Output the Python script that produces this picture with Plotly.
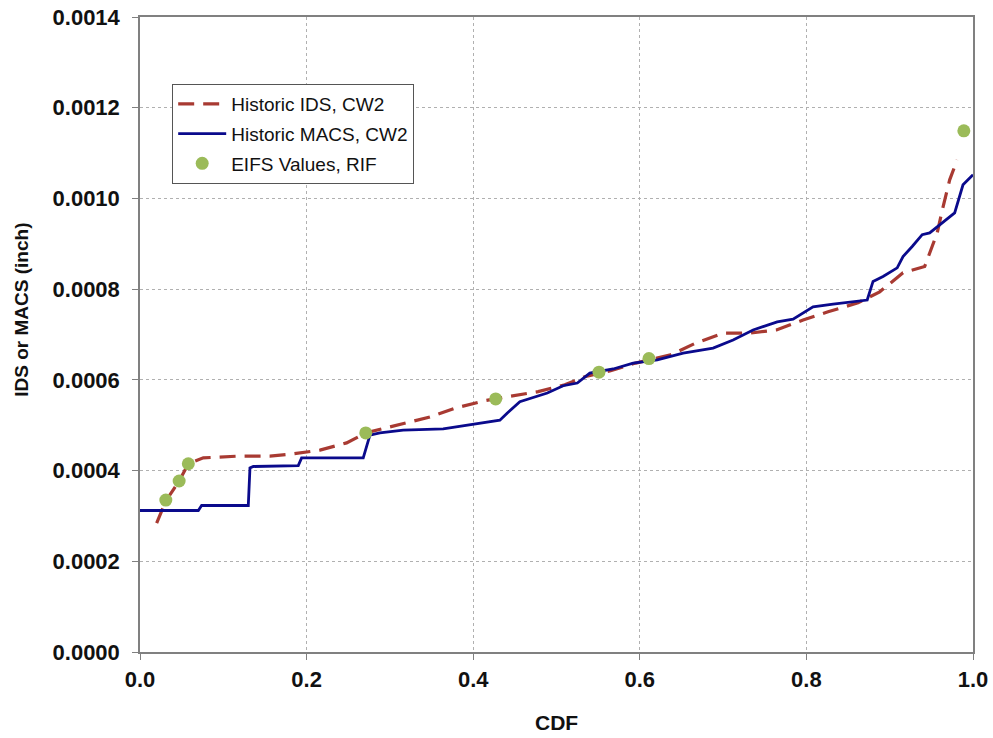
import plotly.graph_objects as go

# Historic IDS, CW2 (dashed)
ids_cdf = [0.020, 0.031, 0.047, 0.058, 0.076, 0.120, 0.156, 0.184, 0.216, 0.248,
           0.271, 0.310, 0.348, 0.379, 0.414, 0.442, 0.478, 0.510, 0.534, 0.565,
           0.595, 0.637, 0.667, 0.700, 0.732, 0.764, 0.796, 0.826, 0.862, 0.888,
           0.916, 0.942, 0.957, 0.964, 0.972, 0.981]
ids_val = [0.000284, 0.000333, 0.000377, 0.000415, 0.000428, 0.000432, 0.000432,
           0.000437, 0.000445, 0.000461, 0.000483, 0.000500, 0.000518, 0.000538,
           0.000554, 0.000563, 0.000574, 0.000589, 0.000607, 0.000620, 0.000637,
           0.000655, 0.000681, 0.000703, 0.000703, 0.000710, 0.000732, 0.000750,
           0.000770, 0.000794, 0.000836, 0.000850, 0.000924, 0.000981, 0.001041,
           0.001085]

# Historic MACS, CW2 (solid)
macs_cdf = [0.000, 0.070, 0.074, 0.130, 0.132, 0.136, 0.190, 0.194, 0.268, 0.273,
            0.276, 0.288, 0.316, 0.364, 0.393, 0.432, 0.441, 0.456, 0.489, 0.508,
            0.525, 0.540, 0.568, 0.592, 0.621, 0.652, 0.688, 0.712, 0.736, 0.765,
            0.784, 0.808, 0.832, 0.873, 0.880, 0.892, 0.909, 0.916, 0.927, 0.939,
            0.948, 0.960, 0.978, 0.988, 1.000]
macs_val = [0.000312, 0.000312, 0.000323, 0.000323, 0.000406, 0.000409, 0.000411,
            0.000428, 0.000428, 0.000456, 0.000478, 0.000483, 0.000489, 0.000492,
            0.000500, 0.000511, 0.000527, 0.000552, 0.000571, 0.000587, 0.000593,
            0.000615, 0.000624, 0.000637, 0.000644, 0.000659, 0.000670, 0.000688,
            0.000710, 0.000728, 0.000734, 0.000761, 0.000767, 0.000776, 0.000817,
            0.000828, 0.000847, 0.000872, 0.000894, 0.000920, 0.000924, 0.000942,
            0.000968, 0.001030, 0.001052]

# EIFS Values, RIF (markers)
eifs_cdf = [0.031, 0.047, 0.058, 0.271, 0.427, 0.551, 0.611, 0.989]
eifs_val = [0.000335, 0.000377, 0.000415, 0.000483, 0.000558, 0.000617, 0.000647, 0.001149]

FONT = "Liberation Sans, Arial, sans-serif"
INK = "#111111"

fig = go.Figure()
fig.add_trace(go.Scatter(
    x=ids_cdf, y=ids_val, mode="lines", name="Historic IDS, CW2", legendgroup="a",
    line=dict(color="#A83A32", width=3.2, dash="16px,9px"),
))
fig.add_trace(go.Scatter(
    x=macs_cdf, y=macs_val, mode="lines", name="Historic MACS, CW2", legendgroup="b",
    line=dict(color="#0A0A8C", width=2.8),
))
fig.add_trace(go.Scatter(
    x=eifs_cdf, y=eifs_val, mode="markers", name="EIFS Values, RIF", legendgroup="c",
    marker=dict(color="#9BBB59", size=13),
))

axis_common = dict(
    showline=True, linecolor="#808080", linewidth=1.5, mirror=True,
    showgrid=True, gridcolor="#B0B0B0", griddash="dot", gridwidth=1,
    ticks="outside", ticklen=6, tickcolor="#808080",
    tickfont=dict(family=FONT, size=22, color=INK),
    zeroline=False, automargin=False,
)

fig.update_xaxes(
    range=[0, 1.0], dtick=0.2, tickformat=".1f",
    tickprefix="<b>", ticksuffix="</b>", ticklabelstandoff=1,
    **axis_common,
)
fig.update_yaxes(
    range=[0, 0.0014], dtick=0.0002, tickformat=".4f",
    tickprefix="<b>", ticksuffix="</b>", ticklabelstandoff=8,
    **axis_common,
)

# axis titles
fig.add_annotation(
    text="<b>CDF</b>", xref="paper", yref="paper", x=0.5, y=-0.1116,
    xanchor="center", yanchor="middle", showarrow=False,
    font=dict(family=FONT, size=21, color=INK),
)
fig.add_annotation(
    text="<b>IDS or MACS (inch)</b>", xref="paper", yref="paper", x=-0.1417, y=0.539,
    xanchor="center", yanchor="middle", textangle=-90, showarrow=False,
    font=dict(family=FONT, size=19, color=INK),
)

fig.update_layout(
    width=993, height=738,
    margin=dict(l=140, r=20, t=17, b=86, autoexpand=False),
    paper_bgcolor="white", plot_bgcolor="white",
    font=dict(family=FONT, size=19, color=INK),
    legend=dict(
        x=0.0384, y=0.8947, xanchor="left", yanchor="top",
        bgcolor="white", bordercolor="#555555", borderwidth=1.2,
        font=dict(family=FONT, size=19, color=INK),
        traceorder="grouped", tracegroupgap=2, itemwidth=48,
    ),
    showlegend=True,
)

fig.write_html("out.html")
